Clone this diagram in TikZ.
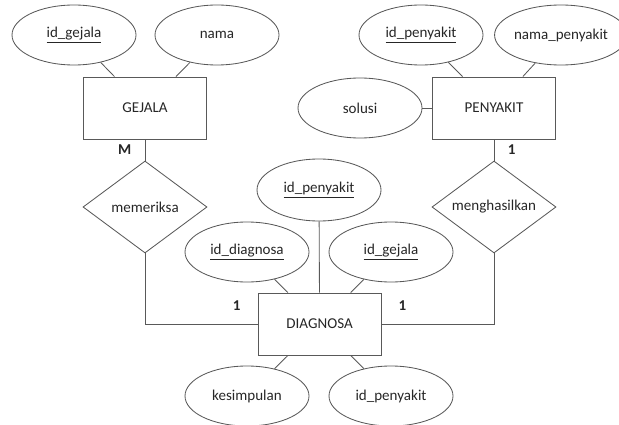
\documentclass[tikz,border=0pt]{standalone}
\usepackage{fontspec}
\setmainfont{Carlito}
\usepackage{tikz}
\usetikzlibrary{shapes.geometric,positioning}

\tikzset{
    attr/.style={ellipse, draw, minimum width=3.1cm, minimum height=1.5cm, inner sep=0pt},
    entity/.style={rectangle, draw, minimum width=3.075cm, minimum height=1.55cm},
    relation/.style={diamond, draw, minimum width=3.1cm, minimum height=2.3cm, inner sep=0pt, aspect=1.35},
    card/.style={inner sep=1pt, font=\fontsize{10.7}{13}\selectfont\bfseries}
}

\begin{document}
\begin{tikzpicture}[font=\fontsize{10.7}{13}\selectfont, text=black!85, draw=black!65, line width=0.6pt]
        \useasboundingbox (0,0) rectangle (15.475,-10.625);

        \node [entity] (gejala) at (3.625,-2.7) {GEJALA};
        \node [entity] (penyakit) at (12.35,-2.7) {PENYAKIT};
        \node [entity] (diagnosa) at (7.99,-8.1) {DIAGNOSA};

        \node [relation] (memeriksa) at (3.625,-5.175) {memeriksa};
        \node [relation] (menghasilkan) at (12.35,-5.175) {menghasilkan};

        \node [attr] (idgejala) at (1.85,-0.875) {\underline{id\_gejala}};
        \node [attr] (nama) at (5.425,-0.875) {nama};
        \node [attr] (idpenyakit) at (10.525,-0.875) {\underline{id\_penyakit}};
        \node [attr, minimum width=2.85cm] (namapenyakit) at (14.025,-0.875) {nama\_penyakit};
        \node [attr] (solusi) at (9.0,-2.7) {solusi};

        \node [attr, minimum height=1.55cm] (dpenyakit) at (7.975,-4.75) {\underline{id\_penyakit}};
        \node [attr] (iddiagnosa) at (6.175,-6.3) {\underline{id\_diagnosa}};
        \node [attr] (dgejala) at (9.775,-6.3) {\underline{id\_gejala}};
        \node [attr] (kesimpulan) at (6.175,-9.9) {kesimpulan};
        \node [attr] (fpenyakit) at (9.775,-9.9) {id\_penyakit};

    \draw
        (idgejala) edge (gejala)
        (nama) edge (gejala)

        (idpenyakit) edge (penyakit)
        (namapenyakit) edge (penyakit)
        (solusi) edge (penyakit)

        (dpenyakit) edge (diagnosa)
        (iddiagnosa) edge (diagnosa)
        (dgejala) edge (diagnosa)
        (kesimpulan) edge (diagnosa)
        (fpenyakit) edge (diagnosa)

        (gejala) edge node[card, left=0.3cm] {M} (memeriksa)
        (penyakit) edge node[card, right=0.3cm] {1} (menghasilkan)
        ;

    \draw (memeriksa.south) |- node[card, pos=0.907, above=0.3cm] {1} (diagnosa.west);
    \draw (diagnosa.east) -| node[card, pos=0.093, above=0.3cm] {1} (menghasilkan.south);
    \end{tikzpicture}
\end{document}
